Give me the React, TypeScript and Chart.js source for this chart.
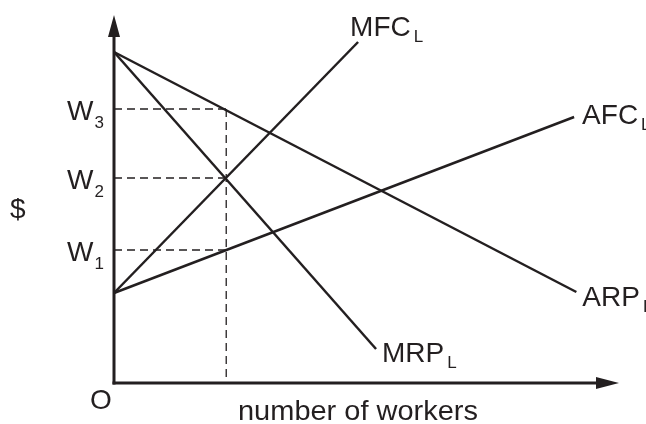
import React, { useEffect, useRef } from "react";
import { Chart, registerables } from "chart.js";

Chart.register(...registerables);

const INK = "#231f20";
const FONT = '"Liberation Sans", Arial, Helvetica, sans-serif';

// Curves (straight lines): start/end in data units
const curveNames = ["ARP", "MRP", "MFC", "AFC"];
const curveStartX = [0, 0, 0, 0];
const curveStartY = [33.1, 33.1, 9.0, 9.0];
const curveEndX = [41.2, 23.35, 21.75, 41.0];
const curveEndY = [9.1, 3.4, 34.1, 26.6];

// Wage levels and employment level
const wageNames = ["W", "W", "W"];
const wageSubs = ["3", "2", "1"];
const wageValues = [27.4, 20.5, 13.3];
const qStar = 10;

const X_MAX = 45;
const Y_MAX = 36.8;

function drawText(
  ctx: CanvasRenderingContext2D,
  s: string,
  x: number,
  yb: number,
  size: number,
  width?: number
): number {
  ctx.save();
  ctx.font = `${size}px ${FONT}`;
  const m = ctx.measureText(s).width;
  const sx = width ? width / m : 1;
  ctx.translate(x, yb);
  ctx.scale(sx, 1);
  ctx.textAlign = "left";
  ctx.textBaseline = "alphabetic";
  ctx.fillStyle = INK;
  ctx.fillText(s, 0, 0);
  ctx.restore();
  return m * sx;
}

const labelOffsets: Record<string, [number, number]> = {
  // dx, dy (baseline)
  ARP: [6, 14],
  MRP: [6, 13],
  MFC: [-8, -6],
  AFC: [8, 7],
};

const decorPlugin = {
  id: "decor",
  afterDatasetsDraw(chart: any) {
    const { ctx, scales } = chart;
    const xs = scales.x;
    const ys = scales.y;
    const x0 = xs.getPixelForValue(0);
    const y0 = ys.getPixelForValue(0);
    const xEnd = xs.getPixelForValue(X_MAX);
    const yTop = ys.getPixelForValue(Y_MAX);

    ctx.save();
    ctx.strokeStyle = INK;
    ctx.fillStyle = INK;
    ctx.lineWidth = 3;
    ctx.lineCap = "butt";

    // y axis
    ctx.beginPath();
    ctx.moveTo(x0, y0 + 1.5);
    ctx.lineTo(x0, yTop + 18);
    ctx.stroke();
    ctx.beginPath();
    ctx.moveTo(x0, yTop);
    ctx.lineTo(x0 - 6, yTop + 22);
    ctx.lineTo(x0 + 6, yTop + 22);
    ctx.closePath();
    ctx.fill();

    // x axis
    ctx.beginPath();
    ctx.moveTo(x0 - 1.5, y0);
    ctx.lineTo(xEnd - 18, y0);
    ctx.stroke();
    ctx.beginPath();
    ctx.moveTo(xEnd, y0);
    ctx.lineTo(xEnd - 23, y0 - 6);
    ctx.lineTo(xEnd - 23, y0 + 6);
    ctx.closePath();
    ctx.fill();
    ctx.restore();

    // wage labels
    wageValues.forEach((w, i) => {
      const py = ys.getPixelForValue(w);
      const ww = drawText(ctx, wageNames[i], x0 - 47, py + 11, 28);
      drawText(ctx, wageSubs[i], x0 - 47 + ww + 1, py + 19, 17);
    });

    // curve labels
    curveNames.forEach((n, i) => {
      const px = xs.getPixelForValue(curveEndX[i]);
      const py = ys.getPixelForValue(curveEndY[i]);
      const [dx, dy] = labelOffsets[n];
      const tw = drawText(ctx, n, px + dx, py + dy, 28);
      drawText(ctx, "L", px + dx + tw + 3, py + dy + 6, 17);
    });

    // axis labels
    drawText(ctx, "$", x0 - 104, ys.getPixelForValue(16.5), 28);
    drawText(ctx, "O", x0 - 24, y0 + 26, 28);
    drawText(ctx, "number of workers", x0 + 124, y0 + 37, 27, 240);
  },
};

export default function App() {
  const ref = useRef<HTMLCanvasElement | null>(null);

  useEffect(() => {
    if (!ref.current) return;
    const curveSets = curveNames.map((n, i) => ({
      label: n,
      data: [
        { x: curveStartX[i], y: curveStartY[i] },
        { x: curveEndX[i], y: curveEndY[i] },
      ],
      showLine: true,
      borderColor: INK,
      borderWidth: 2.5,
      pointRadius: 0,
      clip: false as any,
    }));
    const dashSets = wageValues.map((w, i) => ({
      label: "dash" + i,
      data: [
        { x: 0, y: w },
        { x: qStar, y: w },
      ],
      showLine: true,
      borderColor: INK,
      borderWidth: 1.3,
      borderDash: [8, 5],
      pointRadius: 0,
      clip: false as any,
    }));
    const vertSet = {
      label: "qstar",
      data: [
        { x: qStar, y: wageValues[0] },
        { x: qStar, y: 0 },
      ],
      showLine: true,
      borderColor: INK,
      borderWidth: 1.3,
      borderDash: [8, 5],
      pointRadius: 0,
      clip: false as any,
    };

    const chart = new Chart(ref.current, {
      type: "scatter",
      data: { datasets: [...dashSets, vertSet, ...curveSets] as any },
      options: {
        animation: false,
        responsive: false,
        maintainAspectRatio: false,
        layout: { padding: { left: 114, right: 27, top: 15, bottom: 41 } },
        plugins: {
          legend: { display: false },
          tooltip: { enabled: false },
        },
        scales: {
          x: { type: "linear", min: 0, max: X_MAX, display: false },
          y: { type: "linear", min: 0, max: Y_MAX, display: false },
        },
      },
      plugins: [decorPlugin],
    });
    return () => chart.destroy();
  }, []);

  return (
    <div style={{ position: "fixed", left: 0, top: 0, width: 646, height: 424, background: "#fff" }}>
      <canvas ref={ref} width={646} height={424} />
    </div>
  );
}
